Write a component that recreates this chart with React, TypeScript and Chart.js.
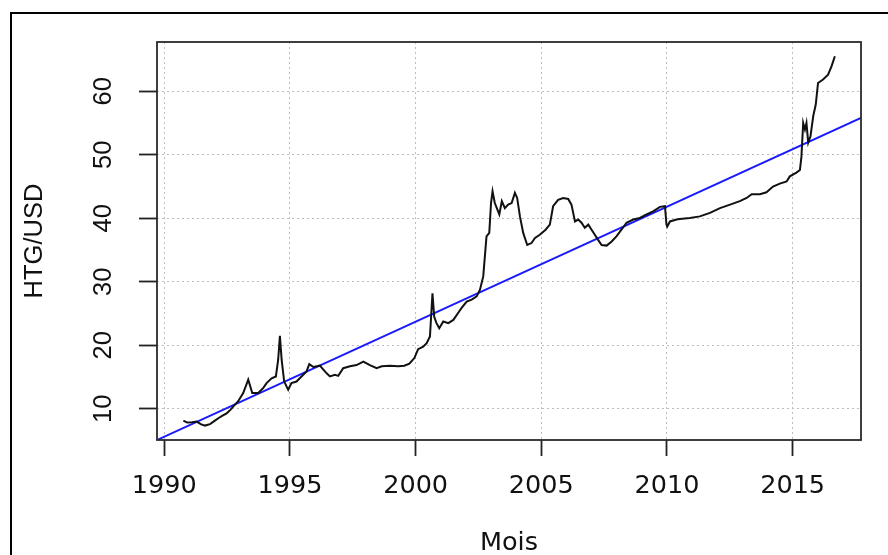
import React, { useEffect, useRef } from "react";
import { Chart, registerables } from "chart.js";

Chart.register(...registerables);

// Monthly-ish HTG/USD exchange rate readings (decimal year, rate)
const months = [
  1990.76, 1990.91, 1991.1, 1991.29, 1991.45, 1991.62, 1991.82, 1992.0, 1992.15, 1992.3,
  1992.48, 1992.62, 1992.75, 1992.94, 1993.14, 1993.34, 1993.5, 1993.74, 1993.94, 1994.07,
  1994.27, 1994.44, 1994.53, 1994.6, 1994.67, 1994.77, 1994.93, 1995.06, 1995.26, 1995.46,
  1995.66, 1995.77, 1995.93, 1996.19, 1996.46, 1996.59, 1996.79, 1996.92, 1997.12, 1997.39,
  1997.65, 1997.92, 1998.18, 1998.45, 1998.65, 1998.98, 1999.31, 1999.55, 1999.75, 1999.95,
  2000.1, 2000.3, 2000.44, 2000.57, 2000.67, 2000.74, 2000.83, 2000.94, 2001.1, 2001.3,
  2001.5, 2001.69, 2001.83, 2002.03, 2002.23, 2002.43, 2002.56, 2002.69, 2002.82, 2002.93,
  2003.0, 2003.06, 2003.15, 2003.25, 2003.33, 2003.43, 2003.55, 2003.68, 2003.82, 2003.95,
  2004.04, 2004.15, 2004.28, 2004.44, 2004.61, 2004.75, 2004.94, 2005.17, 2005.34, 2005.47,
  2005.67, 2005.87, 2006.07, 2006.2, 2006.34, 2006.47, 2006.6, 2006.73, 2006.87, 2007.0,
  2007.13, 2007.26, 2007.4, 2007.6, 2007.8, 2007.99, 2008.19, 2008.39, 2008.66, 2008.92,
  2009.19, 2009.45, 2009.72, 2009.92, 2009.98, 2010.01, 2010.12, 2010.38, 2010.51, 2010.91,
  2011.31, 2011.71, 2012.11, 2012.51, 2012.9, 2013.17, 2013.37, 2013.7, 2013.96, 2014.22,
  2014.49, 2014.76, 2014.89, 2015.15, 2015.29, 2015.35, 2015.42, 2015.49, 2015.55, 2015.62,
  2015.71, 2015.82, 2015.92, 2016.01, 2016.21, 2016.41, 2016.55, 2016.68,
];

const rate = [
  8.16, 7.84, 7.9, 8.0, 7.6, 7.37, 7.6, 8.1, 8.53, 8.9,
  9.3, 9.8, 10.4, 11.2, 12.5, 14.6, 12.5, 12.5, 13.3, 14.05,
  14.8, 15.1, 17.7, 21.5, 17.7, 14.3, 13.0, 14.05, 14.3, 15.1,
  15.9, 17.05, 16.6, 16.8, 15.6, 15.1, 15.35, 15.2, 16.4, 16.7,
  16.9, 17.45, 16.9, 16.4, 16.7, 16.8, 16.7, 16.8, 17.1, 18.0,
  19.4, 19.8, 20.35, 21.4, 28.2, 24.5, 23.5, 22.7, 23.75, 23.5,
  24.0, 25.1, 25.9, 26.9, 27.2, 27.7, 28.75, 30.85, 37.15, 37.7,
  42.4, 44.25, 42.4, 41.4, 40.6, 42.7, 41.6, 42.15, 42.4, 44.0,
  43.2, 40.3, 37.7, 35.8, 36.1, 36.9, 37.4, 38.2, 39.0, 41.9,
  42.9, 43.2, 43.05, 42.15, 39.5, 39.8, 39.3, 38.5, 39.0, 38.2,
  37.4, 36.6, 35.8, 35.7, 36.35, 37.15, 38.2, 39.3, 39.8, 40.05,
  40.6, 41.1, 41.8, 41.9, 39.0, 38.7, 39.5, 39.8, 39.9, 40.05,
  40.3, 40.85, 41.6, 42.15, 42.7, 43.2, 43.8, 43.8, 44.1, 45.0,
  45.45, 45.8, 46.6, 47.2, 47.6, 49.7, 55.0, 53.95, 55.0, 51.9,
  52.9, 56.1, 57.9, 61.3, 61.85, 62.6, 63.95, 65.5,
];

// Linear trend line (abline) endpoints at the plot's x limits
const trendYears = [1989.71, 2017.72];
const trendRate = [5.1, 55.8];

const xTicks = [1990, 1995, 2000, 2005, 2010, 2015];
const yTicks = [10, 20, 30, 40, 50, 60];

const xLimits = [1989.71, 2017.72];
const yLimits = [5.1, 67.75];

const framePlugin = {
  id: "framePlugin",
  afterDraw(chart: any) {
    const { ctx, chartArea } = chart;
    ctx.save();
    // plot box
    ctx.strokeStyle = "#2a2a2a";
    ctx.lineWidth = 1.8;
    ctx.strokeRect(chartArea.left, chartArea.top, chartArea.right - chartArea.left, chartArea.bottom - chartArea.top);
    // outer figure frame
    ctx.strokeStyle = "#000";
    ctx.lineWidth = 2;
    ctx.beginPath();
    ctx.moveTo(11, 555);
    ctx.lineTo(11, 13);
    ctx.lineTo(888, 13);
    ctx.stroke();
    ctx.restore();
  },
};

export default function App() {
  const ref = useRef<HTMLCanvasElement | null>(null);

  useEffect(() => {
    const canvas = ref.current;
    if (!canvas) return;
    const chart = new Chart(canvas, {
      type: "line",
      data: {
        datasets: [
          {
            label: "HTG/USD",
            data: months.map((x, i) => ({ x, y: rate[i] })),
            borderColor: "#111",
            borderWidth: 2,
            pointRadius: 0,
            tension: 0,
            fill: false,
          },
          {
            label: "Tendance",
            data: trendYears.map((x, i) => ({ x, y: trendRate[i] })),
            borderColor: "#1a1aff",
            borderWidth: 2,
            pointRadius: 0,
            tension: 0,
            fill: false,
          },
        ],
      },
      options: {
        animation: false,
        responsive: false,
        devicePixelRatio: 1,
        layout: { padding: { left: 0, right: 27, top: 42, bottom: 0 } },
        plugins: { legend: { display: false }, tooltip: { enabled: false } },
        scales: {
          x: {
            type: "linear",
            min: xLimits[0],
            max: xLimits[1],
            afterFit: (s: any) => {
              s.height = 115;
            },
            afterBuildTicks: (s: any) => {
              s.ticks = xTicks.map((v) => ({ value: v }));
            },
            border: { display: false, dash: [2, 3] },
            grid: {
              color: "#bdbdbd",
              lineWidth: 1,
              drawTicks: true,
              tickLength: 16,
              tickColor: "#222",
              tickWidth: 1.8,
            },
            ticks: {
              includeBounds: false,
              autoSkip: false,
              maxRotation: 0,
              minRotation: 0,
              padding: 15,
              color: "#111",
              font: { family: "'DejaVu Sans'", size: 25.5 },
              callback: (v: any) => String(v),
            },
            title: {
              display: true,
              text: "Mois",
              color: "#111",
              font: { family: "'DejaVu Sans'", size: 25.5, lineHeight: 1 },
              padding: { top: 0, bottom: -1 },
            },
          },
          y: {
            type: "linear",
            min: yLimits[0],
            max: yLimits[1],
            afterFit: (s: any) => {
              s.width = 157;
            },
            afterBuildTicks: (s: any) => {
              s.ticks = yTicks.map((v) => ({ value: v }));
            },
            border: { display: false, dash: [2, 3] },
            grid: {
              color: "#bdbdbd",
              lineWidth: 1,
              drawTicks: true,
              tickLength: 18,
              tickColor: "#222",
              tickWidth: 1.8,
            },
            ticks: {
              includeBounds: false,
              autoSkip: false,
              minRotation: 90,
              maxRotation: 90,
              crossAlign: "center",
              padding: 21,
              color: "#111",
              font: { family: "'Liberation Sans'", size: 25.5 },
              callback: (v: any) => String(v),
            },
            title: {
              display: true,
              text: "HTG/USD",
              color: "#111",
              font: { family: "'Liberation Sans'", size: 25.5, lineHeight: 1 },
              padding: { top: 22, bottom: 0 },
            },
          },
        },
      },
      plugins: [framePlugin],
    } as any);
    return () => chart.destroy();
  }, []);

  return (
    <div style={{ position: "fixed", left: 0, top: 0, width: 888, height: 555, background: "#fff" }}>
      <canvas ref={ref} width={888} height={555} style={{ width: 888, height: 555, display: "block" }} />
    </div>
  );
}
